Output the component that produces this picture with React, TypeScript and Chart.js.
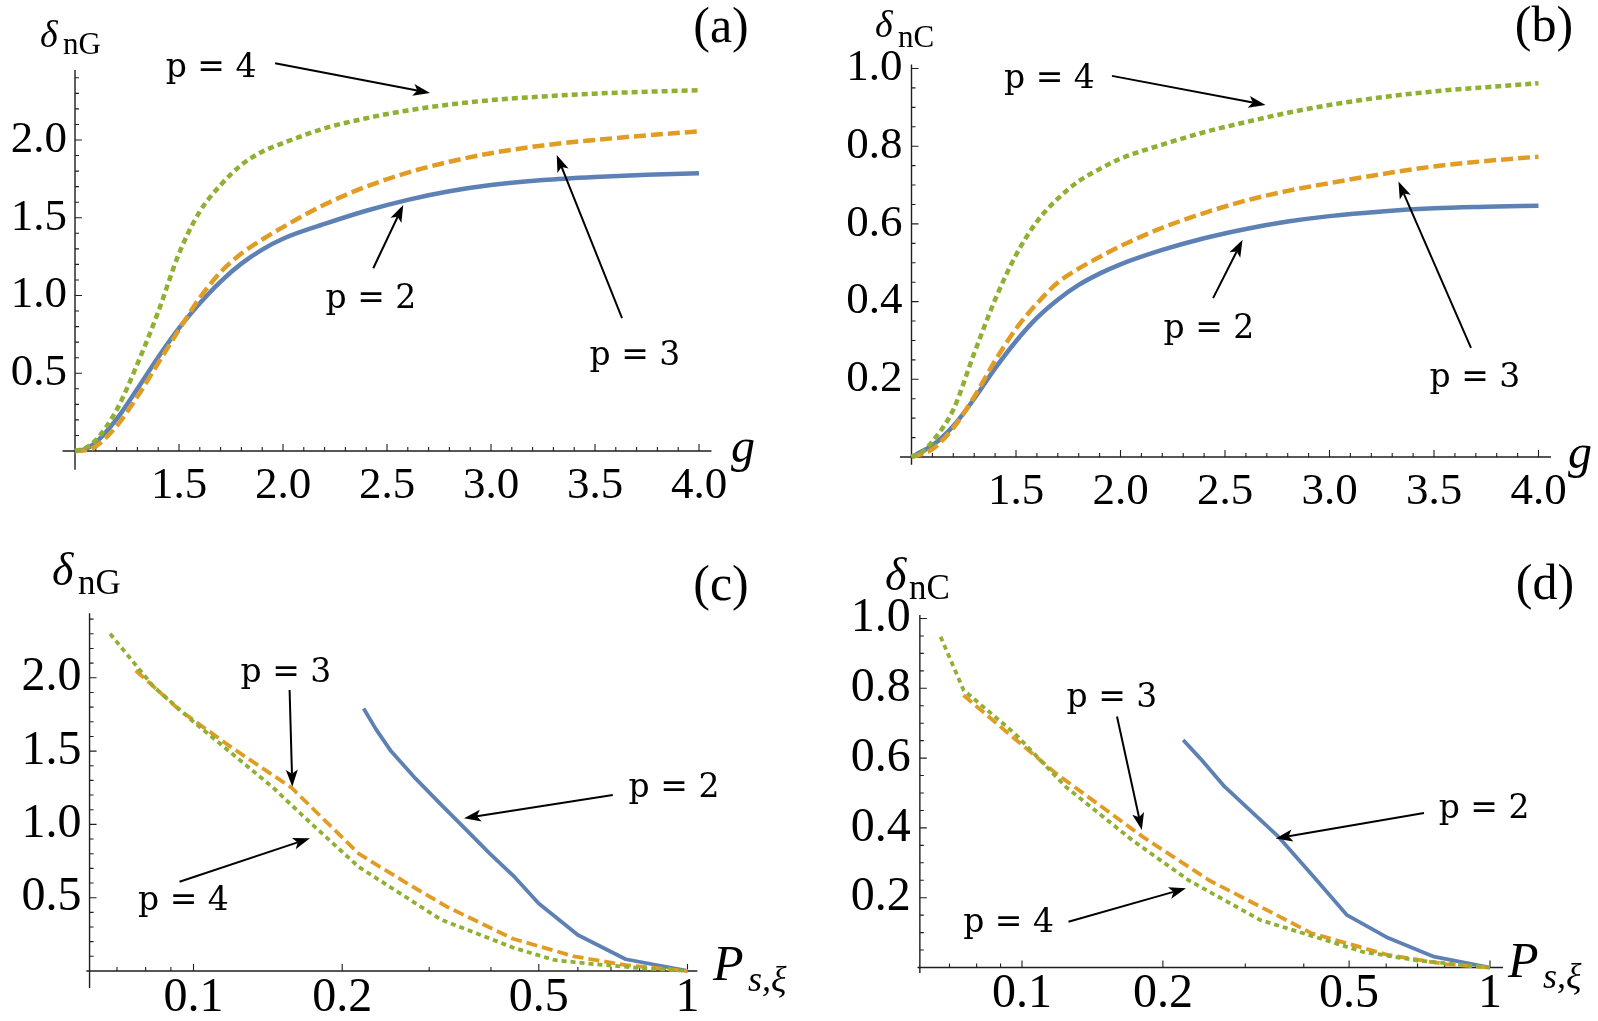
import React, { useEffect, useRef } from 'react';
import { Chart, registerables } from 'chart.js';

Chart.register(...registerables);

// ---------------- data ----------------
// panels (a) and (b): common g grid
const gValues = [1, 1.05, 1.1, 1.2, 1.3, 1.4, 1.5, 1.6, 1.7, 1.8, 1.9, 2.0, 2.2, 2.4, 2.6, 2.8, 3.0, 3.25, 3.5, 3.75, 4.0];

// (a) delta_nG vs g
const nG_p2 = [0, 0.012, 0.055, 0.205, 0.40, 0.603, 0.79, 0.95, 1.09, 1.205, 1.295, 1.365, 1.46, 1.545, 1.615, 1.67, 1.71, 1.742, 1.762, 1.776, 1.786];
const nG_p3 = [0, 0.004, 0.03, 0.16, 0.35, 0.565, 0.78, 0.985, 1.15, 1.27, 1.36, 1.44, 1.585, 1.70, 1.79, 1.86, 1.915, 1.965, 2.0, 2.03, 2.055];
const nG_p4 = [0, 0.02, 0.07, 0.264, 0.56, 0.895, 1.27, 1.54, 1.71, 1.84, 1.925, 1.98, 2.075, 2.14, 2.19, 2.228, 2.256, 2.28, 2.298, 2.31, 2.32];

// (b) delta_nC vs g
const nC_p2 = [0, 0.015, 0.03, 0.08, 0.15, 0.228, 0.298, 0.358, 0.405, 0.443, 0.472, 0.496, 0.533, 0.563, 0.587, 0.606, 0.62, 0.632, 0.64, 0.644, 0.647];
const nC_p3 = [0, 0.008, 0.02, 0.075, 0.155, 0.248, 0.33, 0.395, 0.449, 0.485, 0.515, 0.543, 0.59, 0.628, 0.66, 0.685, 0.705, 0.728, 0.748, 0.762, 0.773];
const nC_p4 = [0, 0.012, 0.04, 0.122, 0.267, 0.405, 0.52, 0.606, 0.665, 0.71, 0.741, 0.768, 0.804, 0.836, 0.862, 0.886, 0.906, 0.926, 0.941, 0.952, 0.962];

// (c) delta_nG vs P_{s,xi}
const cP2_x = [0.221, 0.234, 0.251, 0.282, 0.316, 0.355, 0.398, 0.447, 0.5, 0.6, 0.75, 1.0];
const cP2_y = [1.79, 1.65, 1.50, 1.31, 1.14, 0.97, 0.80, 0.64, 0.46, 0.245, 0.08, 0];
const cP3_x = [0.0764, 0.0937, 0.12, 0.158, 0.216, 0.27, 0.325, 0.443, 0.589, 0.75, 1.0];
const cP3_y = [2.05, 1.78, 1.52, 1.25, 0.80, 0.60, 0.44, 0.22, 0.10, 0.04, 0];
const cP4_x = [0.0678, 0.075, 0.083, 0.1, 0.119, 0.145, 0.17, 0.216, 0.317, 0.443, 0.537, 0.63, 0.8, 1.0];
const cP4_y = [2.3, 2.12, 1.94, 1.70, 1.49, 1.25, 1.03, 0.71, 0.35, 0.16, 0.075, 0.05, 0.02, 0];

// (d) delta_nC vs P_{s,xi}
const dP2_x = [0.221, 0.24, 0.271, 0.353, 0.42, 0.495, 0.605, 0.759, 1.0];
const dP2_y = [0.652, 0.60, 0.518, 0.375, 0.26, 0.15, 0.085, 0.031, 0];
const dP3_x = [0.075, 0.095, 0.118, 0.181, 0.251, 0.33, 0.416, 0.605, 0.8, 1.0];
const dP3_y = [0.78, 0.663, 0.557, 0.375, 0.25, 0.168, 0.098, 0.036, 0.01, 0];
const dP4_x = [0.067, 0.075, 0.0966, 0.124, 0.172, 0.227, 0.323, 0.42, 0.535, 0.7, 1.0];
const dP4_y = [0.948, 0.795, 0.67, 0.518, 0.365, 0.25, 0.136, 0.089, 0.045, 0.02, 0];

// tick labels
const gTicks = [1.5, 2.0, 2.5, 3.0, 3.5, 4.0];
const nGTicks = [0.5, 1.0, 1.5, 2.0];
const nCTicks = [0.2, 0.4, 0.6, 0.8, 1.0];
const pTicks = [0.1, 0.2, 0.5, 1];
const pMinorTicks = [0.07, 0.08, 0.09, 0.3, 0.4, 0.6, 0.7, 0.8, 0.9];

// ---------------- styles ----------------
const BLUE = '#5E81B5';
const ORANGE = '#E19C24';
const GREEN = '#8FB032';
const AXIS = '#1f1f1f';
const SERIF = '"Liberation Serif", "Times New Roman", serif';
const NOTE_FONT = '33px "DejaVu Serif", serif';

function minorSteps(from: number, to: number, step: number, majorEvery: number) {
  const out: number[] = [];
  const n = Math.round((to - from) / step);
  for (let i = 0; i <= n; i++) {
    const v = Math.round((from + i * step) * 1000) / 1000;
    const r = v / majorEvery;
    if (Math.abs(r - Math.round(r)) > 1e-6) out.push(v);
  }
  return out;
}

type Series = { xs: number[]; ys: number[]; color: string; width: number; dash: number[] };
type Note = { t: string; x: number; y: number };
type Arrow = { from: [number, number]; to: [number, number] };
type Label = { t: string; x: number; y: number; f: string; a?: CanvasTextAlign };

type Panel = {
  id: string;
  left: number; top: number; width: number; height: number;
  area: { left: number; right: number; top: number; bottom: number };
  xType: 'linear' | 'logarithmic';
  xMin: number; xMax: number; yMin: number; yMax: number;
  xTicks: number[]; yTicks: number[]; xMinor: number[]; yMinor: number[];
  xFmt: (v: number) => string;
  xLine: [number, number]; yLine: [number, number]; yAxisAt: number;
  tickFont: number; xPad: number; yPad: number;
  curved: boolean;
  series: Series[];
  notes: Note[]; arrows: Arrow[]; labels: Label[];
};

const topW = 4.5;
const botW = 3.8;

const panels: Panel[] = [
  {
    id: 'a', left: 0, top: 0, width: 799, height: 520,
    area: { left: 75, right: 699, top: 70.0, bottom: 458.8 },
    xType: 'linear', xMin: 1, xMax: 4, yMin: -0.05, yMax: 2.45,
    xTicks: gTicks, yTicks: nGTicks,
    xMinor: minorSteps(1.1, 3.9, 0.1, 0.5), yMinor: minorSteps(0.1, 2.4, 0.1, 0.5),
    xFmt: (v) => v.toFixed(1),
    xLine: [0.94, 4.06], yLine: [-0.12, 2.45], yAxisAt: 1,
    tickFont: 45, xPad: 0, yPad: 8, curved: true,
    series: [
      { xs: gValues, ys: nG_p4, color: GREEN, width: topW, dash: [6, 4] },
      { xs: gValues, ys: nG_p3, color: ORANGE, width: topW, dash: [12, 5] },
      { xs: gValues, ys: nG_p2, color: BLUE, width: topW, dash: [] },
    ],
    notes: [
      { t: 'p = 4', x: 1.654, y: 2.405 },
      { t: 'p = 2', x: 2.423, y: 0.92 },
      { t: 'p = 3', x: 3.692, y: 0.553 },
    ],
    arrows: [
      { from: [1.962, 2.493], to: [2.707, 2.302] },
      { from: [2.434, 1.175], to: [2.578, 1.582] },
      { from: [3.63, 0.855], to: [3.316, 1.904] },
    ],
    labels: [
      { t: 'δ', x: 40, y: 47, f: `italic 38px ${SERIF}` },
      { t: 'nG', x: 63, y: 54, f: `31px ${SERIF}` },
      { t: '(a)', x: 721, y: 42, f: `50px ${SERIF}`, a: 'center' },
      { t: 'g', x: 731, y: 462, f: `italic 48px ${SERIF}` },
    ],
  },
  {
    id: 'b', left: 799, top: 0, width: 799, height: 520,
    area: { left: 112.5, right: 739.5, top: 64.6, bottom: 464.8 },
    xType: 'linear', xMin: 1, xMax: 4, yMin: -0.02, yMax: 1.01,
    xTicks: gTicks, yTicks: nCTicks,
    xMinor: minorSteps(1.1, 3.9, 0.1, 0.5), yMinor: minorSteps(0.05, 0.95, 0.05, 0.2),
    xFmt: (v) => v.toFixed(1),
    xLine: [0.945, 4.06], yLine: [-0.02, 1.01], yAxisAt: 1,
    tickFont: 45, xPad: 0, yPad: 9, curved: true,
    series: [
      { xs: gValues, ys: nC_p4, color: GREEN, width: topW, dash: [6, 4] },
      { xs: gValues, ys: nC_p3, color: ORANGE, width: topW, dash: [12, 5] },
      { xs: gValues, ys: nC_p2, color: BLUE, width: topW, dash: [] },
    ],
    notes: [
      { t: 'p = 4', x: 1.66, y: 0.95 },
      { t: 'p = 2', x: 2.423, y: 0.306 },
      { t: 'p = 3', x: 3.696, y: 0.18 },
    ],
    arrows: [
      { from: [1.959, 0.981], to: [2.694, 0.906] },
      { from: [2.443, 0.409], to: [2.584, 0.559] },
      { from: [3.677, 0.281], to: [3.33, 0.709] },
    ],
    labels: [
      { t: 'δ', x: 76, y: 37, f: `italic 38px ${SERIF}` },
      { t: 'nC', x: 99, y: 47, f: `31px ${SERIF}` },
      { t: '(b)', x: 745, y: 41, f: `50px ${SERIF}`, a: 'center' },
      { t: 'g', x: 769, y: 468, f: `italic 48px ${SERIF}` },
    ],
  },
  {
    id: 'c', left: 0, top: 520, width: 799, height: 501,
    area: { left: 89.55, right: 687.5, top: 93.3, bottom: 458.3 },
    xType: 'logarithmic', xMin: 0.0616, xMax: 1, yMin: -0.05, yMax: 2.44,
    xTicks: pTicks, yTicks: nGTicks,
    xMinor: pMinorTicks, yMinor: minorSteps(0.1, 2.4, 0.1, 0.5),
    xFmt: (v) => String(v),
    xLine: [0.0607, 1.047], yLine: [-0.116, 2.44], yAxisAt: 0.0616,
    tickFont: 48, xPad: -9, yPad: 8, curved: false,
    series: [
      { xs: cP4_x, ys: cP4_y, color: GREEN, width: botW, dash: [5, 4] },
      { xs: cP3_x, ys: cP3_y, color: ORANGE, width: botW, dash: [11, 5] },
      { xs: cP2_x, ys: cP2_y, color: BLUE, width: botW, dash: [] },
    ],
    notes: [
      { t: 'p = 3', x: 0.1539, y: 1.973 },
      { t: 'p = 4', x: 0.0954, y: 0.416 },
      { t: 'p = 2', x: 0.939, y: 1.187 },
    ],
    arrows: [
      { from: [0.1565, 1.917], to: [0.1585, 1.257] },
      { from: [0.0937, 0.609], to: [0.1721, 0.905] },
      { from: [0.706, 1.2], to: [0.3528, 1.042] },
    ],
    labels: [
      { t: 'δ', x: 52, y: 65, f: `italic 46px ${SERIF}` },
      { t: 'nG', x: 78, y: 74, f: `35px ${SERIF}` },
      { t: '(c)', x: 721, y: 80, f: `50px ${SERIF}`, a: 'center' },
      { t: 'P', x: 713, y: 460, f: `italic 50px ${SERIF}` },
      { t: 's,ξ', x: 748, y: 471, f: `italic 36px ${SERIF}` },
    ],
  },
  {
    id: 'd', left: 799, top: 520, width: 799, height: 501,
    area: { left: 120.86, right: 691, top: 95.0, bottom: 454.5 },
    xType: 'logarithmic', xMin: 0.0605, xMax: 1, yMin: -0.02, yMax: 1.01,
    xTicks: pTicks, yTicks: nCTicks,
    xMinor: pMinorTicks, yMinor: minorSteps(0.05, 0.95, 0.05, 0.2),
    xFmt: (v) => String(v),
    xLine: [0.0598, 1.066], yLine: [-0.016, 1.01], yAxisAt: 0.0605,
    tickFont: 48, xPad: -9, yPad: 9, curved: false,
    series: [
      { xs: dP4_x, ys: dP4_y, color: GREEN, width: botW, dash: [5, 4] },
      { xs: dP3_x, ys: dP3_y, color: ORANGE, width: botW, dash: [11, 5] },
      { xs: dP2_x, ys: dP2_y, color: BLUE, width: botW, dash: [] },
    ],
    notes: [
      { t: 'p = 3', x: 0.1557, y: 0.746 },
      { t: 'p = 2', x: 0.971, y: 0.428 },
      { t: 'p = 4', x: 0.0936, y: 0.102 },
    ],
    arrows: [
      { from: [0.1596, 0.719], to: [0.1803, 0.394] },
      { from: [0.7227, 0.443], to: [0.3484, 0.37] },
      { from: [0.1257, 0.131], to: [0.2241, 0.227] },
    ],
    labels: [
      { t: 'δ', x: 86, y: 70, f: `italic 46px ${SERIF}` },
      { t: 'nC', x: 110, y: 79, f: `35px ${SERIF}` },
      { t: '(d)', x: 746, y: 79, f: `50px ${SERIF}`, a: 'center' },
      { t: 'P', x: 709, y: 457, f: `italic 50px ${SERIF}` },
      { t: 's,ξ', x: 744, y: 468, f: `italic 36px ${SERIF}` },
    ],
  },
];

const MAJOR = 7;
const MINOR = 4;

function drawArrow(ctx: CanvasRenderingContext2D, x1: number, y1: number, x2: number, y2: number) {
  const ang = Math.atan2(y2 - y1, x2 - x1);
  const c = Math.cos(ang);
  const s = Math.sin(ang);
  const L = 17;
  const W = 6;
  const bx = x2 - L * c;
  const by = y2 - L * s;
  ctx.beginPath();
  ctx.moveTo(x1, y1);
  ctx.lineTo(bx + 4 * c, by + 4 * s);
  ctx.stroke();
  ctx.beginPath();
  ctx.moveTo(x2, y2);
  ctx.lineTo(bx + W * s, by - W * c);
  ctx.lineTo(bx + 4 * c, by + 4 * s);
  ctx.lineTo(bx - W * s, by + W * c);
  ctx.closePath();
  ctx.fill();
}

function PanelChart({ p }: { p: Panel }) {
  const ref = useRef<HTMLCanvasElement>(null);

  useEffect(() => {
    const canvas = ref.current;
    if (!canvas) return;

    const yAxisW = p.area.left - 2;
    const xAxisH = p.height - p.area.bottom - 2;

    const axesPlugin = {
      id: 'mathAxes_' + p.id,
      beforeDatasetsDraw(chart: any) {
        const ctx: CanvasRenderingContext2D = chart.ctx;
        const xs = chart.scales.x;
        const ys = chart.scales.y;
        const X = (v: number) => xs.getPixelForValue(v);
        const Y = (v: number) => ys.getPixelForValue(v);
        const y0 = Y(0);
        const x0 = X(p.yAxisAt);
        ctx.save();
        ctx.strokeStyle = AXIS;
        ctx.lineWidth = 1.4;
        ctx.beginPath();
        ctx.moveTo(X(p.xLine[0]), y0);
        ctx.lineTo(X(p.xLine[1]), y0);
        ctx.moveTo(x0, Y(p.yLine[0]));
        ctx.lineTo(x0, Y(p.yLine[1]));
        ctx.stroke();
        ctx.lineWidth = 1.1;
        ctx.beginPath();
        for (const v of p.xTicks) { const px = X(v); ctx.moveTo(px, y0); ctx.lineTo(px, y0 - MAJOR); }
        for (const v of p.xMinor) { const px = X(v); ctx.moveTo(px, y0); ctx.lineTo(px, y0 - MINOR); }
        for (const v of p.yTicks) { const py = Y(v); ctx.moveTo(x0, py); ctx.lineTo(x0 + MAJOR, py); }
        for (const v of p.yMinor) { const py = Y(v); ctx.moveTo(x0, py); ctx.lineTo(x0 + MINOR, py); }
        ctx.stroke();
        ctx.restore();
      },
    };

    const notesPlugin = {
      id: 'notes_' + p.id,
      afterDraw(chart: any) {
        const ctx: CanvasRenderingContext2D = chart.ctx;
        const xs = chart.scales.x;
        const ys = chart.scales.y;
        ctx.save();
        ctx.fillStyle = '#000';
        ctx.strokeStyle = '#000';
        ctx.lineWidth = 2;
        ctx.textBaseline = 'alphabetic';
        ctx.font = NOTE_FONT;
        ctx.textAlign = 'center';
        for (const n of p.notes) {
          ctx.fillText(n.t, xs.getPixelForValue(n.x), ys.getPixelForValue(n.y));
        }
        for (const a of p.arrows) {
          drawArrow(
            ctx,
            xs.getPixelForValue(a.from[0]), ys.getPixelForValue(a.from[1]),
            xs.getPixelForValue(a.to[0]), ys.getPixelForValue(a.to[1]),
          );
        }
        for (const l of p.labels) {
          ctx.font = l.f;
          ctx.textAlign = l.a || 'left';
          ctx.fillText(l.t, l.x, l.y);
        }
        ctx.restore();
      },
    };

    const datasets = p.series.map((s) => ({
      data: s.xs.map((x, i) => ({ x, y: s.ys[i] })),
      borderColor: s.color,
      backgroundColor: s.color,
      borderWidth: s.width,
      borderDash: s.dash,
      borderCapStyle: 'butt',
      borderJoinStyle: 'round',
      pointRadius: 0,
      pointHoverRadius: 0,
      fill: false,
      clip: false,
      tension: 0,
      cubicInterpolationMode: p.curved ? 'monotone' : 'default',
    }));

    const chart = new Chart(canvas, {
      type: 'line',
      data: { datasets } as any,
      options: {
        animation: false,
        responsive: false,
        devicePixelRatio: 1,
        events: [],
        layout: {
          padding: {
            left: p.area.left - yAxisW,
            right: p.width - p.area.right,
            top: p.area.top,
            bottom: p.height - p.area.bottom - xAxisH,
          },
        },
        plugins: {
          legend: { display: false },
          tooltip: { enabled: false },
          title: { display: false },
        },
        scales: {
          x: {
            type: p.xType,
            min: p.xMin,
            max: p.xMax,
            grid: { display: false, drawTicks: false },
            border: { display: false },
            ticks: {
              autoSkip: false,
              maxRotation: 0,
              minRotation: 0,
              padding: p.xPad,
              color: '#000',
              font: { family: SERIF, size: p.tickFont },
              callback: (v: any) => p.xFmt(Number(v)),
            },
            afterBuildTicks: (s: any) => {
              s.ticks = p.xTicks.map((v) => ({ value: v }));
            },
            afterFit: (s: any) => {
              s.height = xAxisH;
            },
          },
          y: {
            type: 'linear',
            min: p.yMin,
            max: p.yMax,
            grid: { display: false, drawTicks: false },
            border: { display: false },
            ticks: {
              autoSkip: false,
              padding: p.yPad,
              color: '#000',
              font: { family: SERIF, size: p.tickFont },
              callback: (v: any) => Number(v).toFixed(1),
            },
            afterBuildTicks: (s: any) => {
              s.ticks = p.yTicks.map((v) => ({ value: v }));
            },
            afterFit: (s: any) => {
              s.width = yAxisW;
            },
          },
        },
      } as any,
      plugins: [axesPlugin, notesPlugin],
    });

    return () => {
      chart.destroy();
    };
  }, [p]);

  return (
    <canvas
      ref={ref}
      width={p.width}
      height={p.height}
      style={{ position: 'absolute', left: p.left, top: p.top, width: p.width, height: p.height }}
    />
  );
}

export default function App() {
  return (
    <div
      style={{
        position: 'absolute',
        left: 0,
        top: 0,
        width: 1598,
        height: 1021,
        background: '#fff',
        overflow: 'hidden',
      }}
    >
      {panels.map((p) => (
        <PanelChart key={p.id} p={p} />
      ))}
    </div>
  );
}
